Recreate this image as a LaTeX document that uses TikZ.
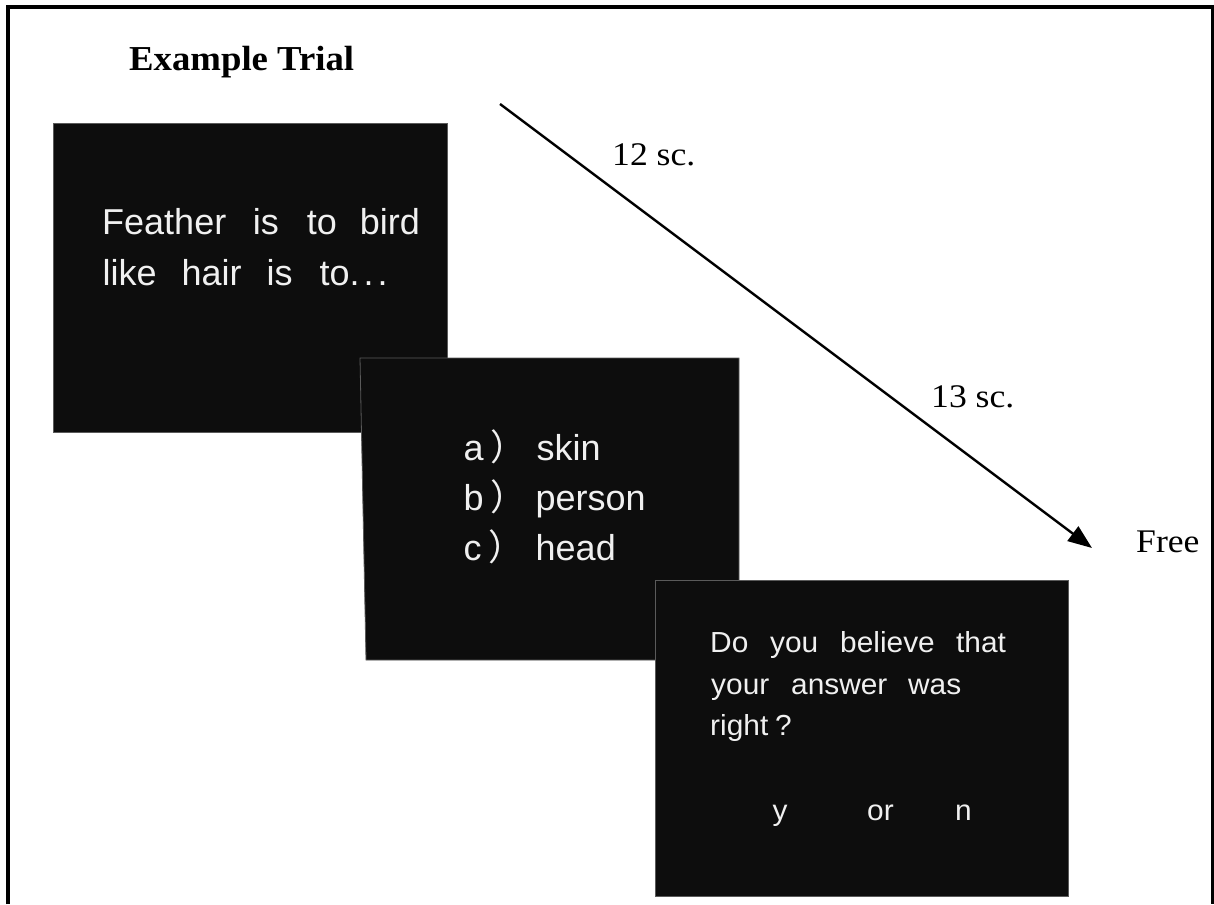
\documentclass[tikz,border=0pt]{standalone}
\usepackage{fontspec}
\setmainfont{Liberation Serif}
\newfontfamily\lblfont[FakeStretch=1.08]{Liberation Serif}
\newfontfamily\titlefont[FakeStretch=1.05]{Liberation Serif}
\newfontfamily\scrfont{Liberation Sans}
\newfontfamily\qfont[FakeStretch=1.03]{Liberation Sans}
\newfontfamily\cjkfont{Noto Sans CJK SC}
\usetikzlibrary{arrows.meta}

\definecolor{scrblack}{HTML}{0D0D0D}
\definecolor{scredge}{HTML}{5A5A5A}
\definecolor{scrwhite}{HTML}{F0F0F0}

% fixed-width slot for one word, so that words start where they should
\newcommand\slot[2]{\makebox[#1pt][l]{#2}}
% list letter followed by a full-width closing parenthesis
\newcommand\choiceletter[1]{#1\hspace{7pt}{\cjkfont）}}

\begin{document}
\begin{tikzpicture}[x=1pt,y=-1pt,
  screen/.style={fill=scrblack,draw=scredge,line width=0.8pt,inner sep=0pt,outer sep=0pt,anchor=north west},
  bigtext/.style={text=scrwhite,inner sep=0pt,anchor=base west,font=\scrfont\fontsize{36}{36}\selectfont},
  qtext/.style={text=scrwhite,inner sep=0pt,anchor=base west,font=\qfont\fontsize{29}{29}\selectfont},
  lbl/.style={inner sep=0pt,anchor=base west,font=\lblfont\fontsize{33}{33}\selectfont},
  timeline/.style={line width=2.4pt,-{Triangle[length=24pt,width=18pt]}}]

\useasboundingbox (0,0) rectangle (1214,904);
\fill[white] (0,0) rectangle (1214,904);

% outer frame, open at the bottom
\draw[line width=4pt,miter limit=10] (8,904) -- (8,7) -- (1212,7);
\draw[line width=3pt] (1212.5,5) -- (1212.5,904);

% title
\node[inner sep=0pt,anchor=base west,font=\titlefont\bfseries\fontsize{35}{35}\selectfont] (title) at (129,71) {Example Trial};

% first screen: the analogy
\node[screen,minimum width=394pt,minimum height=309pt] (s1) at (53,123) {};
\node[bigtext] (s1a) at (102,234) {\slot{150.6}{Feather}\slot{54}{is}\slot{53}{to}bird};
\node[bigtext] (s1b) at (102.5,285) {\slot{79}{like}\slot{85}{hair}\slot{53}{is}to.\hspace{4pt}.\hspace{4pt}.};

% second screen: the choices (left edge leans a little)
\filldraw[fill=scrblack,draw=scredge,line width=0.8pt] (360,358) -- (739,358) -- (739,660) -- (366,660) -- cycle;
\node[bigtext] (c1) at (463.5,460) {\slot{73}{\choiceletter{a}}skin};
\node[bigtext] (c2) at (463.5,510) {\slot{72}{\choiceletter{b}}person};
\node[bigtext] (c3) at (463.5,560) {\slot{72}{\choiceletter{c}}head};

% third screen: the confidence question
\node[screen,minimum width=413pt,minimum height=316pt] (s3) at (655,580) {};
\node[qtext] (q1) at (710,652) {\slot{60}{Do}\slot{70}{you}\slot{116}{believe}that};
\node[qtext] (q2) at (711,694) {\slot{80}{your}\slot{117}{answer}was};
\node[qtext] (q3) at (710,735) {\slot{65}{right}?};
\node[qtext] (q4) at (772.5,820) {\slot{94.5}{y}\slot{88}{or}n};

% time line
\coordinate (t0) at (500,104);
\coordinate (t1) at (1092,548);
\draw[timeline] (t0) -- (t1);
\node[lbl] (d1) at (612,165) {12 sc.};
\node[lbl] (d2) at (931,407) {13 sc.};
\node[lbl] (free) at (1136,552) {Free};

\end{tikzpicture}
\end{document}
